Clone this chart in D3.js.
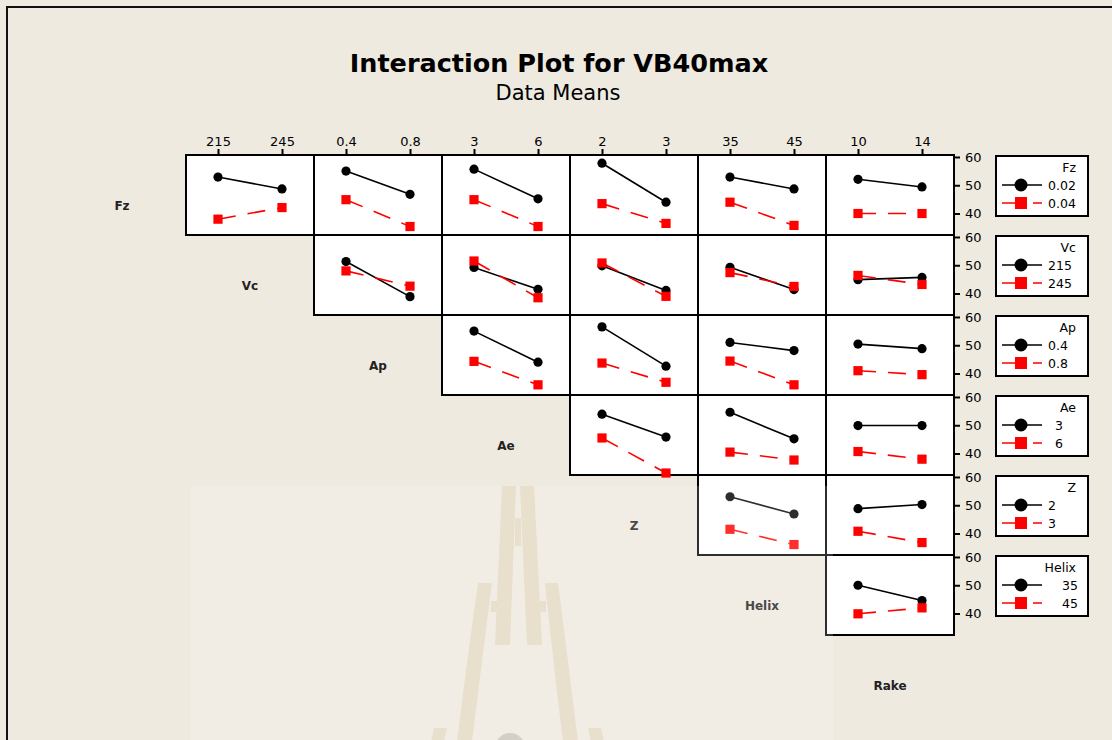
<!DOCTYPE html>
<html>
<head>
<meta charset="utf-8">
<script src="https://cdn.jsdelivr.net/npm/d3@7"></script>
<style>
  html, body { margin: 0; padding: 0; background: #EEEAE0; }
  svg { display: block; }
</style>
</head>
<body>
<svg id="chart" width="1112" height="740"></svg>
<script>
// ---------------- DATA ----------------
const factors = ["Fz", "Vc", "Ap", "Ae", "Z", "Helix", "Rake"];
const levels = [
  ["0.02", "0.04"],
  ["215", "245"],
  ["0.4", "0.8"],
  ["3", "6"],
  ["2", "3"],
  ["35", "45"],
  ["10", "14"]
];
const yTicks = [40, 50, 60];

// Each row: list of panels (columns to the right of the row factor).
// For every panel: [mean at col level 1, mean at col level 2]
// "low" = row factor level 1 (black), "high" = row factor level 2 (red)
const fzLow   = [[52.9, 48.7], [55.0, 46.8], [55.7, 45.2], [57.8, 44.0], [52.9, 48.7], [52.1, 49.4]];
const fzHigh  = [[38.0, 42.1], [44.9, 35.4], [44.9, 35.4], [43.5, 36.5], [44.0, 35.8], [40.0, 40.0]];
const vcLow   = [[51.3, 38.9], [49.2, 41.5], [49.8, 41.1], [49.3, 41.4], [44.9, 45.7]];
const vcHigh  = [[48.0, 42.6], [51.5, 38.5], [50.8, 39.0], [47.4, 42.5], [46.4, 43.2]];
const apLow   = [[55.0, 44.0], [56.5, 42.6], [51.0, 48.1], [50.4, 48.8]];
const apHigh  = [[44.3, 36.0], [43.7, 36.9], [44.4, 36.0], [41.0, 39.6]];
const aeLow   = [[53.9, 45.8], [54.6, 45.2], [49.9, 49.9]];
const aeHigh  = [[45.5, 33.1], [40.5, 37.7], [40.7, 38.0]];
const zLow    = [[53.0, 46.9], [48.8, 50.25]];
const zHigh   = [[41.5, 36.1], [40.8, 36.8]];
const helixLow  = [[50.0, 44.6]];
const helixHigh = [[39.9, 42.0]];

const lowSeries  = [fzLow, vcLow, apLow, aeLow, zLow, helixLow];
const highSeries = [fzHigh, vcHigh, apHigh, aeHigh, zHigh, helixHigh];

// ---------------- LAYOUT ----------------
const gridLeft = 58, cellW = 128, gridTop = 155, cellH = 80;
const yDomain = [32.4, 60.7];
const legendIndent = { Ae: 7, Helix: 14 };
const black = "#000", red = "#FF0000";
const font = "'DejaVu Sans', Verdana, sans-serif";

const svg = d3.select("#chart");

// background + frame
svg.append("rect").attr("x", 0).attr("y", 0).attr("width", 1112).attr("height", 740).attr("fill", "#EEEAE0");
svg.append("path").attr("d", "M7,745 L7,7 L1120,7").attr("fill", "none").attr("stroke", "#111").attr("stroke-width", 2);

// decorative watermark (tower)
const wm = svg.append("g").attr("fill", "#E3D8C1");
wm.append("path").attr("d", "M502,486 L516,486 L510,645 L495,645 Z");
wm.append("path").attr("d", "M520,486 L534,486 L542,645 L527,645 Z");
wm.append("rect").attr("x", 515).attr("y", 518).attr("width", 6).attr("height", 28);
wm.append("path").attr("d", "M478,583 L492,583 Q482,660 472,742 L457,742 Q467,660 478,583 Z");
wm.append("path").attr("d", "M545,583 L558,583 Q568,660 578,742 L563,742 Q553,660 545,583 Z");
wm.append("rect").attr("x", 491).attr("y", 601).attr("width", 10).attr("height", 11);
wm.append("rect").attr("x", 533).attr("y", 601).attr("width", 13).attr("height", 11);
wm.append("path").attr("d", "M434,728 L447,728 L444,742 L431,742 Z");
wm.append("path").attr("d", "M588,728 L601,728 L604,742 L591,742 Z");
svg.append("circle").attr("cx", 510).attr("cy", 748).attr("r", 15).attr("fill", "#CBC5BA");

// Title
svg.append("text").attr("x", 559).attr("y", 72).attr("text-anchor", "middle")
  .attr("font-family", font).attr("font-weight", "bold").attr("font-size", 25.5)
  .attr("fill", "#000").text("Interaction Plot for VB40max");
svg.append("text").attr("x", 558).attr("y", 100).attr("text-anchor", "middle")
  .attr("font-family", font).attr("font-size", 21)
  .attr("fill", "#000").text("Data Means");

// scales
const xScales = factors.map((f, j) =>
  d3.scalePoint().domain(levels[j]).range([gridLeft + j * cellW, gridLeft + (j + 1) * cellW]).padding(0.5));
const yScales = factors.map((f, i) =>
  d3.scaleLinear().domain(yDomain).range([gridTop + (i + 1) * cellH, gridTop + i * cellH]));

const lastCol = factors.length - 1;
const rightX = gridLeft + (lastCol + 1) * cellW;

// top axes
for (let j = 1; j < factors.length; j++) {
  const g = svg.append("g").attr("transform", `translate(0,${gridTop})`)
    .call(d3.axisTop(xScales[j]).tickSize(6).tickPadding(3));
  g.select(".domain").remove();
  g.selectAll(".tick line").attr("stroke", "#000").attr("stroke-width", 2);
  g.selectAll(".tick text").attr("font-family", font).attr("font-size", 13).attr("fill", "#000");
}

// panels
for (let i = 0; i < factors.length - 1; i++) {
  const y = yScales[i];
  for (let j = i + 1; j < factors.length; j++) {
    const x = xScales[j];
    const x0 = gridLeft + j * cellW, y0 = gridTop + i * cellH;
    svg.append("rect").attr("x", x0).attr("y", y0).attr("width", cellW).attr("height", cellH)
      .attr("fill", "#fff").attr("stroke", "#000").attr("stroke-width", 2);

    const low = lowSeries[i][j - i - 1];
    const high = highSeries[i][j - i - 1];
    const line = d3.line().x((d, k) => x(levels[j][k])).y(d => y(d));

    svg.append("path").attr("d", line(low)).attr("fill", "none")
      .attr("stroke", black).attr("stroke-width", 1.6);
    svg.append("path").attr("d", line(high)).attr("fill", "none")
      .attr("stroke", red).attr("stroke-width", 1.6).attr("stroke-dasharray", "18,12");

    low.forEach((v, k) => {
      svg.append("circle").attr("cx", x(levels[j][k])).attr("cy", y(v)).attr("r", 4.6).attr("fill", black);
    });
    high.forEach((v, k) => {
      svg.append("rect").attr("x", x(levels[j][k]) - 4.6).attr("y", y(v) - 4.6)
        .attr("width", 9.2).attr("height", 9.2).attr("fill", red);
    });
  }
  // right axis
  const g = svg.append("g").attr("transform", `translate(${rightX},0)`)
    .call(d3.axisRight(y).tickValues(yTicks).tickSize(6).tickPadding(5));
  g.select(".domain").remove();
  g.selectAll(".tick line").attr("stroke", "#000").attr("stroke-width", 2);
  g.selectAll(".tick text").attr("font-family", font).attr("font-size", 13).attr("fill", "#000");
  svg.append("line").attr("x1", rightX).attr("x2", rightX)
    .attr("y1", gridTop + i * cellH).attr("y2", gridTop + (i + 1) * cellH)
    .attr("stroke", "#000").attr("stroke-width", 2);

  // legend
  const ly = gridTop + i * cellH + 1;
  const lg = svg.append("g").attr("transform", `translate(996,${ly})`);
  lg.append("rect").attr("width", 92).attr("height", 60).attr("fill", "#fff")
    .attr("stroke", "#000").attr("stroke-width", 2);
  lg.append("text").attr("x", 80).attr("y", 16).attr("text-anchor", "end")
    .attr("font-family", font).attr("font-size", 12.5).attr("fill", "#000").text(factors[i]);
  const ind = legendIndent[factors[i]] || 0;
  // entry 1
  lg.append("line").attr("x1", 6).attr("x2", 46).attr("y1", 29).attr("y2", 29)
    .attr("stroke", black).attr("stroke-width", 1.6);
  lg.append("circle").attr("cx", 25).attr("cy", 29).attr("r", 6.5).attr("fill", black);
  lg.append("text").attr("x", 52 + ind).attr("y", 34)
    .attr("font-family", font).attr("font-size", 12.5).attr("fill", "#000").text(levels[i][0]);
  // entry 2
  lg.append("line").attr("x1", 6).attr("x2", 46).attr("y1", 47).attr("y2", 47)
    .attr("stroke", red).attr("stroke-width", 1.6).attr("stroke-dasharray", "14,17,9");
  lg.append("rect").attr("x", 19).attr("y", 41).attr("width", 12).attr("height", 12).attr("fill", red);
  lg.append("text").attr("x", 52 + ind).attr("y", 52)
    .attr("font-family", font).attr("font-size", 12.5).attr("fill", "#000").text(levels[i][1]);
}

// diagonal row labels
factors.forEach((f, i) => {
  svg.append("text").attr("x", gridLeft + i * cellW + cellW / 2).attr("y", gridTop + i * cellH + cellH / 2 + 15)
    .attr("text-anchor", "middle").attr("font-family", font).attr("font-weight", "bold")
    .attr("font-size", 12).attr("fill", "#222").text(f);
});

// light watermark overlay
svg.append("rect").attr("x", 191).attr("y", 486).attr("width", 642).attr("height", 260)
  .attr("fill", "#fff").attr("opacity", 0.18);
</script>
</body>
</html>
